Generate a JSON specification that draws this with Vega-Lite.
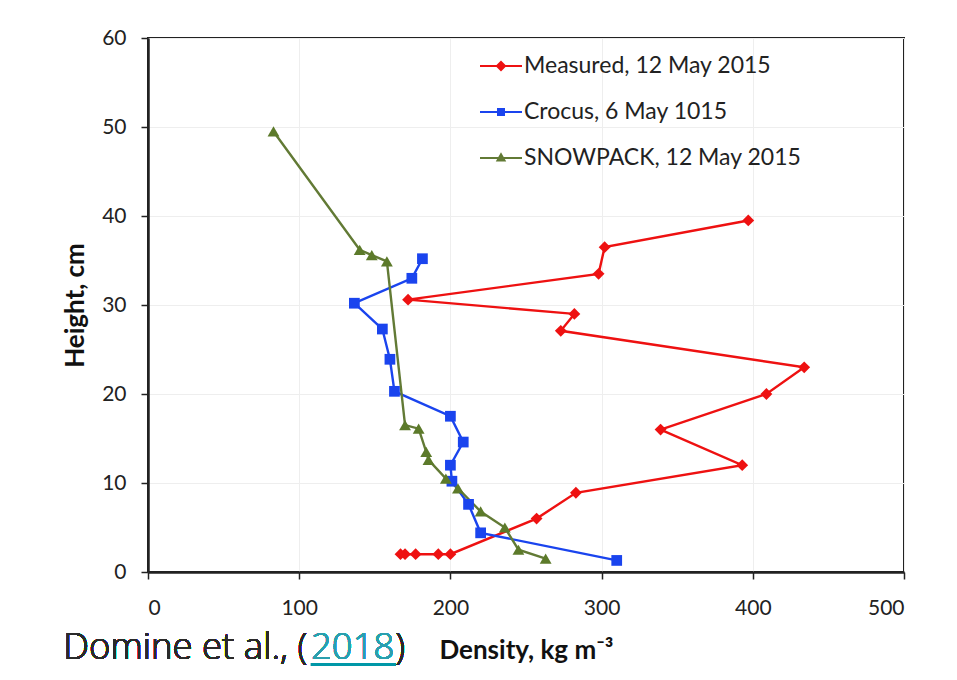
{
  "$schema": "https://vega.github.io/schema/vega-lite/v6.json",
  "autosize": {"type": "none"},
  "width": 756,
  "height": 534,
  "padding": {"left": 148, "top": 38, "right": 53, "bottom": 108},
  "background": "#ffffff",
  "config": {
    "font": "Lato",
    "view": {"stroke": "#222222", "strokeWidth": 2},
    "axis": {
      "labelFont": "Lato",
      "labelFontSize": 21,
      "labelColor": "#222222",
      "titleFont": "Lato",
      "titleFontSize": 26,
      "titleFontWeight": "bold",
      "titleColor": "#111111",
      "domainColor": "#222222",
      "domainWidth": 2.5,
      "tickColor": "#222222",
      "tickWidth": 1.5,
      "tickSize": 7,
      "gridColor": "#eeeeee",
      "gridWidth": 1
    }
  },
  "data": {
    "values": [
      {"s": "Measured, 12 May 2015", "seq": 1, "d": 397, "h": 39.5},
      {"s": "Measured, 12 May 2015", "seq": 2, "d": 302, "h": 36.5},
      {"s": "Measured, 12 May 2015", "seq": 3, "d": 298, "h": 33.5},
      {"s": "Measured, 12 May 2015", "seq": 4, "d": 172, "h": 30.6},
      {"s": "Measured, 12 May 2015", "seq": 5, "d": 282, "h": 29.0},
      {"s": "Measured, 12 May 2015", "seq": 6, "d": 273, "h": 27.1},
      {"s": "Measured, 12 May 2015", "seq": 7, "d": 434, "h": 23.0},
      {"s": "Measured, 12 May 2015", "seq": 8, "d": 409, "h": 20.0},
      {"s": "Measured, 12 May 2015", "seq": 9, "d": 339, "h": 16.0},
      {"s": "Measured, 12 May 2015", "seq": 10, "d": 393, "h": 12.0},
      {"s": "Measured, 12 May 2015", "seq": 11, "d": 283, "h": 8.9},
      {"s": "Measured, 12 May 2015", "seq": 12, "d": 257, "h": 6.0},
      {"s": "Measured, 12 May 2015", "seq": 13, "d": 200, "h": 2.0},
      {"s": "Measured, 12 May 2015", "seq": 14, "d": 192, "h": 2.0},
      {"s": "Measured, 12 May 2015", "seq": 15, "d": 177, "h": 2.0},
      {"s": "Measured, 12 May 2015", "seq": 16, "d": 170, "h": 2.0},
      {"s": "Measured, 12 May 2015", "seq": 17, "d": 167, "h": 2.0},
      {"s": "Crocus, 6 May 1015", "seq": 1, "d": 181.5, "h": 35.2},
      {"s": "Crocus, 6 May 1015", "seq": 2, "d": 174.5, "h": 33.0},
      {"s": "Crocus, 6 May 1015", "seq": 3, "d": 136.5, "h": 30.2},
      {"s": "Crocus, 6 May 1015", "seq": 4, "d": 155, "h": 27.3},
      {"s": "Crocus, 6 May 1015", "seq": 5, "d": 160, "h": 23.9},
      {"s": "Crocus, 6 May 1015", "seq": 6, "d": 163, "h": 20.3},
      {"s": "Crocus, 6 May 1015", "seq": 7, "d": 200, "h": 17.5},
      {"s": "Crocus, 6 May 1015", "seq": 8, "d": 208.5, "h": 14.6},
      {"s": "Crocus, 6 May 1015", "seq": 9, "d": 200, "h": 12.0},
      {"s": "Crocus, 6 May 1015", "seq": 10, "d": 201, "h": 10.2},
      {"s": "Crocus, 6 May 1015", "seq": 11, "d": 212, "h": 7.6},
      {"s": "Crocus, 6 May 1015", "seq": 12, "d": 220, "h": 4.4},
      {"s": "Crocus, 6 May 1015", "seq": 13, "d": 310, "h": 1.3},
      {"s": "SNOWPACK, 12 May 2015", "seq": 1, "d": 83, "h": 49.5},
      {"s": "SNOWPACK, 12 May 2015", "seq": 2, "d": 140, "h": 36.2},
      {"s": "SNOWPACK, 12 May 2015", "seq": 3, "d": 148, "h": 35.6},
      {"s": "SNOWPACK, 12 May 2015", "seq": 4, "d": 158, "h": 34.9},
      {"s": "SNOWPACK, 12 May 2015", "seq": 5, "d": 170, "h": 16.5},
      {"s": "SNOWPACK, 12 May 2015", "seq": 6, "d": 179, "h": 16.1},
      {"s": "SNOWPACK, 12 May 2015", "seq": 7, "d": 184, "h": 13.5},
      {"s": "SNOWPACK, 12 May 2015", "seq": 8, "d": 185.5, "h": 12.6},
      {"s": "SNOWPACK, 12 May 2015", "seq": 9, "d": 197, "h": 10.5},
      {"s": "SNOWPACK, 12 May 2015", "seq": 10, "d": 205, "h": 9.4},
      {"s": "SNOWPACK, 12 May 2015", "seq": 11, "d": 220, "h": 6.8},
      {"s": "SNOWPACK, 12 May 2015", "seq": 12, "d": 236, "h": 5.0},
      {"s": "SNOWPACK, 12 May 2015", "seq": 13, "d": 245, "h": 2.5},
      {"s": "SNOWPACK, 12 May 2015", "seq": 14, "d": 263, "h": 1.5}
    ]
  },
  "encoding": {
    "x": {
      "field": "d",
      "type": "quantitative",
      "scale": {"domain": [0, 500], "nice": false, "zero": false},
      "axis": {
        "values": [0, 100, 200, 300, 400, 500],
        "title": "Density, kg m⁻³",
        "labelPadding": 18,
        "titlePadding": 19
      }
    },
    "y": {
      "field": "h",
      "type": "quantitative",
      "scale": {"domain": [0, 60], "nice": false, "zero": false},
      "axis": {
        "values": [0, 10, 20, 30, 40, 50, 60],
        "title": "Height, cm",
        "labelPadding": 15,
        "titlePadding": 13
      }
    }
  },
  "layer": [
    {
      "transform": [{"filter": "datum.s == 'Measured, 12 May 2015'"}],
      "mark": {"type": "line", "strokeWidth": 2.4, "color": "#ee1111"},
      "encoding": {"order": {"field": "seq", "type": "quantitative"}}
    },
    {
      "transform": [{"filter": "datum.s == 'Crocus, 6 May 1015'"}],
      "mark": {"type": "line", "strokeWidth": 2.4, "color": "#1a44ee"},
      "encoding": {"order": {"field": "seq", "type": "quantitative"}}
    },
    {
      "transform": [{"filter": "datum.s == 'SNOWPACK, 12 May 2015'"}],
      "mark": {"type": "line", "strokeWidth": 2.4, "color": "#627a35"},
      "encoding": {"order": {"field": "seq", "type": "quantitative"}}
    },
    {
      "transform": [{"filter": "datum.s == 'Measured, 12 May 2015'"}],
      "mark": {"type": "point", "shape": "diamond", "filled": true, "size": 140, "opacity": 1, "color": "#ee1111"}
    },
    {
      "transform": [{"filter": "datum.s == 'Crocus, 6 May 1015'"}],
      "mark": {"type": "point", "shape": "square", "filled": true, "size": 115, "opacity": 1, "color": "#1a44ee"}
    },
    {
      "transform": [{"filter": "datum.s == 'SNOWPACK, 12 May 2015'"}],
      "mark": {"type": "point", "shape": "triangle-up", "filled": true, "size": 140, "opacity": 1, "color": "#5c7a2a"}
    },
    {
      "mark": {"type": "point", "filled": true, "opacity": 0},
      "encoding": {
        "color": {
          "field": "s",
          "type": "nominal",
          "scale": {
            "domain": ["Measured, 12 May 2015", "Crocus, 6 May 1015", "SNOWPACK, 12 May 2015"],
            "range": ["#ee1111", "#1a44ee", "#627a35"]
          },
          "legend": {
            "title": null,
            "orient": "none",
            "legendX": 332,
            "legendY": 7,
            "padding": 0,
            "symbolSize": 1764,
            "symbolStrokeWidth": 0,
            "symbolOpacity": 1,
            "labelFont": "Lato",
            "labelFontSize": 23,
            "labelColor": "#222222",
            "labelOffset": 2,
            "rowPadding": 13,
            "labelLimit": 400
          }
        },
        "shape": {
          "field": "s",
          "type": "nominal",
          "scale": {
            "domain": ["Measured, 12 May 2015", "Crocus, 6 May 1015", "SNOWPACK, 12 May 2015"],
            "range": [
              "M-1,-0.05H1V0.05H-1Z M0,-0.26L0.26,0L0,0.26L-0.26,0Z",
              "M-1,-0.05H1V0.05H-1Z M-0.19,-0.19H0.19V0.19H-0.19Z",
              "M-1,-0.05H1V0.05H-1Z M0,-0.27L0.25,0.17H-0.25Z"
            ]
          },
          "legend": {
            "title": null,
            "orient": "none",
            "legendX": 332,
            "legendY": 7,
            "padding": 0,
            "symbolSize": 1764,
            "symbolStrokeWidth": 0,
            "symbolOpacity": 1,
            "labelFont": "Lato",
            "labelFontSize": 23,
            "labelColor": "#222222",
            "labelOffset": 2,
            "rowPadding": 13,
            "labelLimit": 400
          }
        }
      }
    },
    {
      "mark": {"type": "text", "text": "Domine et al., (", "font": "Open Sans", "fontWeight": 300, "fontSize": 36.5, "align": "left", "baseline": "alphabetic", "color": "#2a2a2a"},
      "encoding": {"x": {"datum": -56}, "y": {"datum": -9.8}}
    },
    {
      "mark": {"type": "text", "text": "2018", "font": "Open Sans", "fontWeight": 300, "fontSize": 36.5, "align": "left", "baseline": "alphabetic", "color": "#2a9fae"},
      "encoding": {"x": {"datum": 107.8}, "y": {"datum": -9.8}}
    },
    {
      "mark": {"type": "text", "text": ")", "font": "Open Sans", "fontWeight": 300, "fontSize": 36.5, "align": "left", "baseline": "alphabetic", "color": "#2a2a2a"},
      "encoding": {"x": {"datum": 163.5}, "y": {"datum": -9.8}}
    },
    {
      "mark": {"type": "rule", "strokeWidth": 3, "color": "#0097a7"},
      "encoding": {"x": {"datum": 107.8}, "x2": {"datum": 164}, "y": {"datum": -10.4}}
    }
  ]
}
